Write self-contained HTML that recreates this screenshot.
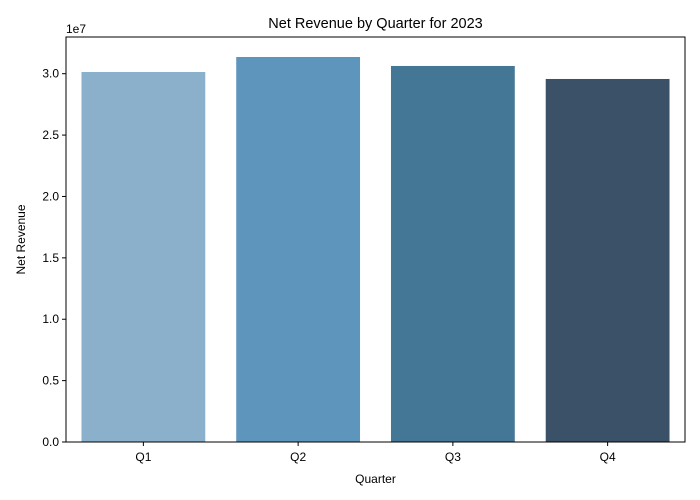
<!DOCTYPE html>
<html><head><meta charset="utf-8"><style>
body{margin:0;background:#fff}
svg{display:block;font-family:"Liberation Sans","DejaVu Sans",sans-serif}
</style></head><body>
<svg id="chart" width="700" height="500">
<text x="375.5" y="28" font-size="14.5" text-anchor="middle" fill="#000">Net Revenue by Quarter for 2023</text>
<text x="66" y="33" font-size="12" fill="#000">1e7</text>
<text x="375.5" y="483" font-size="12" text-anchor="middle">Quarter</text>
<text transform="translate(25,239.5) rotate(-90)" font-size="12" text-anchor="middle">Net Revenue</text>
<g id="bars"></g><g id="axes"></g>
</svg>
<script>
const categories=["Q1","Q2","Q3","Q4"];
const revenue=[3.014e7,3.136e7,3.063e7,2.957e7];
const yTicks=[0,0.5e7,1.0e7,1.5e7,2.0e7,2.5e7,3.0e7];
const yTickLabels=["0.0","0.5","1.0","1.5","2.0","2.5","3.0"];
const colors=["#8ab0cb","#5d95bc","#447696","#3b5168"];
const L=66,R=685,T=37,B=442;
const ns="http://www.w3.org/2000/svg";
const y=v=>B-v*(B-73.7)/3e7;
const band=(R-L)/categories.length;
const x=i=>L+band*i+band/2;
const bw=band*0.8;
const bars=document.getElementById('bars'),axes=document.getElementById('axes');
function mk(t,a,p){const e=document.createElementNS(ns,t);for(const k in a)e.setAttribute(k,a[k]);p.appendChild(e);return e;}
categories.forEach((c,i)=>{
const r=mk('rect',{x:x(i)-bw/2,y:y(revenue[i]),width:bw,height:B-y(revenue[i]),fill:colors[i]},bars);


mk('line',{x1:x(i),x2:x(i),y1:B,y2:B+4,stroke:'#000'},axes);
const t=mk('text',{x:x(i),y:B+19,'font-size':12,'text-anchor':'middle'},axes);t.textContent=c;


});
yTicks.forEach((v,i)=>{
mk('line',{x1:L-4,x2:L,y1:y(v),y2:y(v),stroke:'#000'},axes);
const t=mk('text',{x:L-7,y:y(v)+4,'font-size':12,'text-anchor':'end'},axes);t.textContent=yTickLabels[i];


});
const f=mk('rect',{x:L,y:T,width:R-L,height:B-T,fill:'none',stroke:'#000','stroke-width':1},axes);


</script>
</body></html>
